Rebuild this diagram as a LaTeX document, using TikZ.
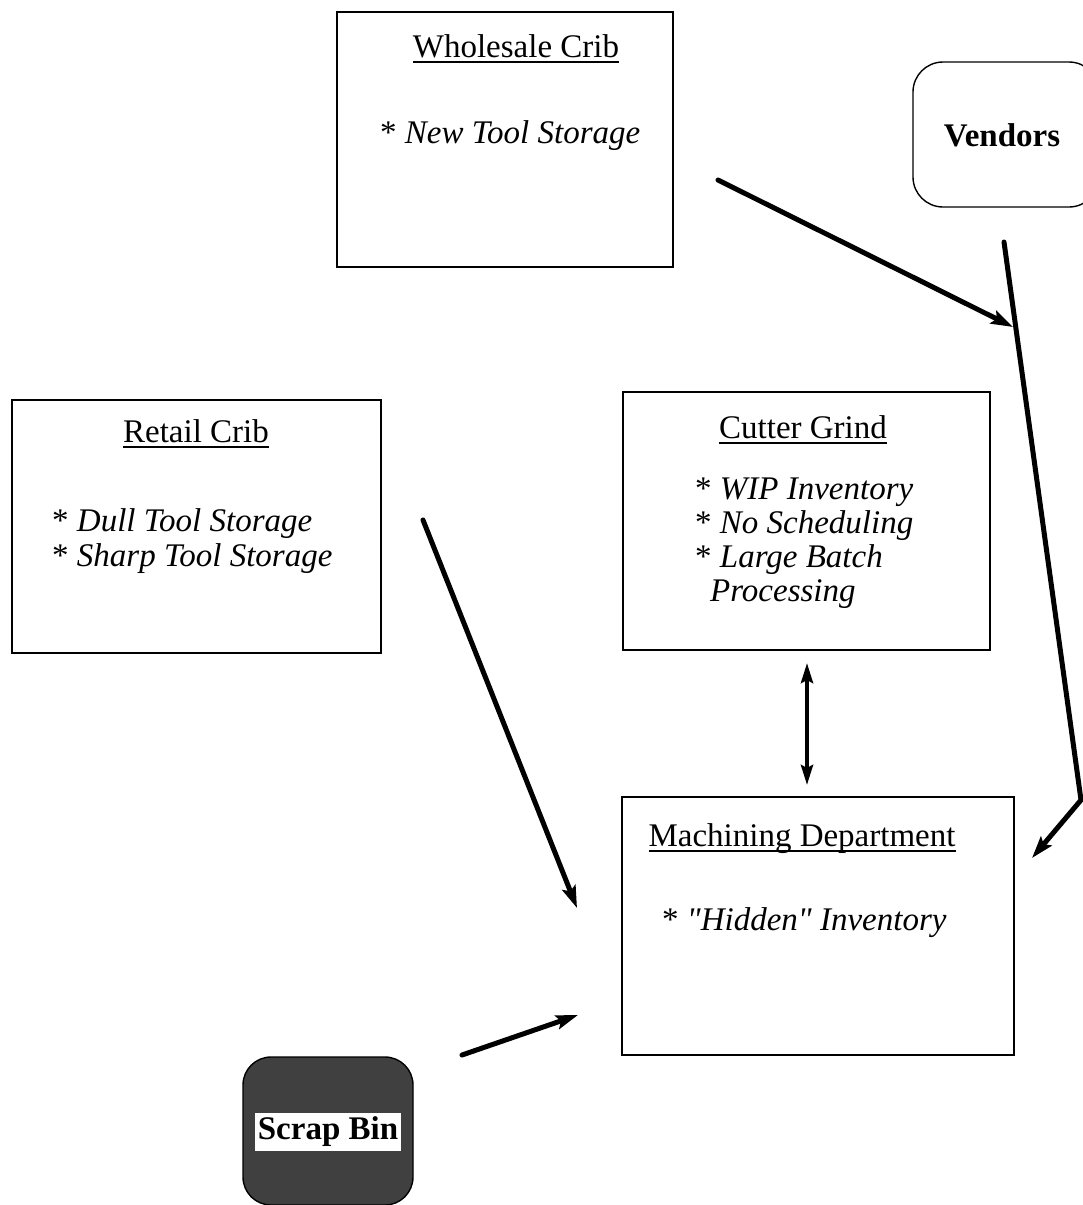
\documentclass[tikz,border=0pt]{standalone}
\usepackage{fontspec}
\setmainfont{Liberation Serif}
% same face without TeX ligature mapping, for straight double quotes
\newfontfamily\rawserif{Liberation Serif}
\usetikzlibrary{arrows.meta}
% underlined heading: the rule runs through the descenders
\newcommand\hdline[1]{\setbox0\hbox{#1}\rlap{\rule[-6pt]{\wd0}{1.6pt}}\box0}
\newcommand\dq{{\rawserif\itshape"}}
\tikzset{
  area/.style={draw, line width=1.4pt, inner sep=0pt},
  heading/.style={anchor=base, inner sep=0pt, font=\fontsize{33}{34}\selectfont},
  note/.style={anchor=base west, inner sep=0pt, font=\fontsize{33}{34}\selectfont\itshape},
  flow/.style={line width=5pt, line cap=round, line join=round,
    -{Stealth[length=22pt,width=14pt,inset=4pt]}},
  twoway/.style={line width=4pt,
    {Stealth[length=20pt,width=12pt,inset=3pt]}-{Stealth[length=20pt,width=12pt,inset=3pt]}},
}
\begin{document}
\begin{tikzpicture}[x=1pt,y=-1pt]
\useasboundingbox (0,0) rectangle (1083,1205);
\begin{scope}
\clip (0,0) rectangle (1083,1205);

% Wholesale Crib
\node[area, minimum width=336pt, minimum height=255pt] (ws) at (505,139.5) {};
\node[heading] (wsT) at (516,57) {\hdline{Wholesale Crib}};
\node[note] (wsN) at (380,143) {\upshape*\ \itshape New Tool Storage};

% Vendors
\node[draw, line width=1.4pt, rounded corners=30pt, minimum width=186pt,
      minimum height=145pt, inner sep=0pt] (vd) at (1006,134.5) {};
\node[anchor=base, inner sep=0pt, font=\fontsize{33}{34}\selectfont\bfseries] (vdT) at (1002,146) {Vendors};

% Retail Crib
\node[area, minimum width=369pt, minimum height=253pt] (rc) at (196.5,526.5) {};
\node[heading] (rcT) at (196,442) {\hdline{Retail Crib}};
\node[note] (rcA) at (52,531) {\upshape*\ \itshape Dull Tool Storage};
\node[note] (rcB) at (52,566) {\upshape*\ \itshape Sharp Tool Storage};

% Cutter Grind
\node[area, minimum width=367pt, minimum height=258pt] (cg) at (806.5,521) {};
\node[heading] (cgT) at (803,438) {\hdline{Cutter Grind}};
\node[note] (cgA) at (695,499) {\upshape*\ \itshape WIP Inventory};
\node[note] (cgB) at (695,533) {\upshape*\ \itshape No Scheduling};
\node[note] (cgC) at (695,567) {\upshape*\ \itshape Large Batch};
\node[note] (cgD) at (710,601) {Processing};

% Machining Department
\node[area, minimum width=392pt, minimum height=258pt] (md) at (818,926) {};
\node[heading] (mdT) at (802,846) {\hdline{Machining Department}};
\node[note] (mdA) at (662,930) {\upshape*\ \itshape \dq Hidden\dq\ Inventory};

% Scrap Bin
\node[draw=black, line width=1.4pt, fill=black!75, rounded corners=28pt,
      minimum width=170pt, minimum height=148pt, inner sep=0pt] (sb) at (328,1131) {};
\node[fill=white, inner xsep=3pt, inner ysep=4pt,
      font=\fontsize{33}{34}\selectfont\bfseries] (sbT) at (328,1132) {Scrap Bin};

% free ends of the flows
\coordinate (wsOut) at (718,180);
\coordinate (vdJoin) at (1013,327);
\coordinate (vdOut) at (1004,242);
\coordinate (vdBend) at (1081,800);
\coordinate (mdInR) at (1032,858);
\coordinate (rcOut) at (423,520);
\coordinate (mdInL) at (577,908);
\coordinate (cgLow) at (807,663);
\coordinate (mdTop) at (807,785);
\coordinate (sbOut) at (462,1055);
\coordinate (mdInB) at (578,1015);

\draw[flow] (wsOut) -- (vdJoin);
\draw[flow] (vdOut) -- (vdBend) -- (mdInR);
\draw[flow] (rcOut) -- (mdInL);
\draw[twoway] (cgLow) -- (mdTop);
\draw[flow] (sbOut) -- (mdInB);
\end{scope}
\end{tikzpicture}
\end{document}
